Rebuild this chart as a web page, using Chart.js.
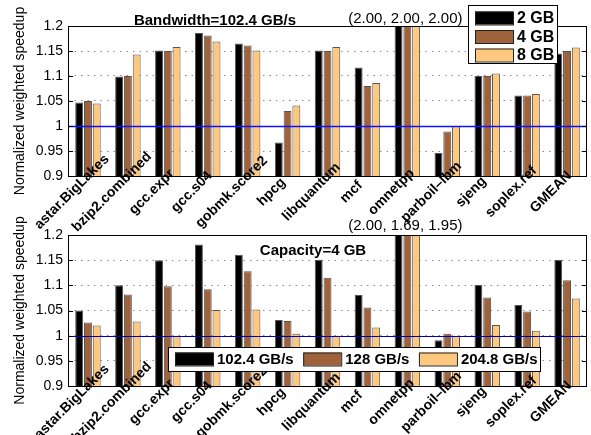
<!DOCTYPE html>
<html>
<head>
<meta charset="utf-8">
<script src="https://cdn.jsdelivr.net/npm/chart.js@4"></script>
<style>
  body { margin: 0; background: #fff; }
  #wrap { position: relative; width: 591px; height: 435px; }
  #wrap canvas { position: absolute; left: 0; top: 0; }
</style>
</head>
<body>
<div id="wrap">
  <canvas id="bw" width="591" height="435"></canvas>
  <canvas id="cap" width="591" height="435"></canvas>
</div>
<script>
const categories = ['astar.BigLakes', 'bzip2.combined', 'gcc.expr', 'gcc.s04', 'gobmk.score2', 'hpcg',
  'libquantum', 'mcf', 'omnetpp', 'parboil\u2013lbm', 'sjeng', 'soplex.ref', 'GMEAN'];
const yTicks = [0.9, 0.95, 1, 1.05, 1.1, 1.15, 1.2];

// top: bandwidth fixed at 102.4 GB/s, capacity varied
const bwSeries = ['2 GB', '4 GB', '8 GB'];
const bw2GB = [1.047, 1.099, 1.151, 1.186, 1.165, 0.967, 1.151, 1.117, 2.00, 0.946, 1.100, 1.061, 1.145];
const bw4GB = [1.050, 1.100, 1.150, 1.181, 1.161, 1.030, 1.150, 1.080, 2.00, 0.989, 1.100, 1.061, 1.150];
const bw8GB = [1.045, 1.143, 1.158, 1.169, 1.151, 1.041, 1.158, 1.086, 2.00, 1.000, 1.105, 1.064, 1.157];

// bottom: capacity fixed at 4 GB, bandwidth varied
const capSeries = ['102.4 GB/s', '128 GB/s', '204.8 GB/s'];
const cap102 = [1.050, 1.100, 1.150, 1.181, 1.161, 1.031, 1.151, 1.081, 2.00, 0.991, 1.101, 1.061, 1.151];
const cap128 = [1.026, 1.082, 1.098, 1.092, 1.128, 1.029, 1.115, 1.056, 1.69, 1.004, 1.076, 1.048, 1.110];
const cap204 = [1.020, 1.028, 1.000, 1.051, 1.052, 1.004, 1.000, 1.016, 1.95, 0.999, 1.021, 1.010, 1.074];

const barColors = ['#000000', '#A0623B', '#FFC87F'];
const FONT = '"Liberation Sans", Arial, Helvetica, sans-serif';

// everything matlab draws on top of the bars
function decorations(cfg) {
  return {
    id: 'decor',
    afterDatasetsDraw(chart) {
      const ctx = chart.ctx;
      const a = chart.chartArea;
      const x = chart.scales.x, y = chart.scales.y;
      ctx.save();

      // reference line at 1
      const y1 = Math.round(y.getPixelForValue(1)) + 0.5;
      ctx.strokeStyle = cfg.lineColor;
      ctx.lineWidth = cfg.lineWidth;
      ctx.beginPath(); ctx.moveTo(a.left, y1); ctx.lineTo(a.right, y1); ctx.stroke();

      // axes box + inward ticks
      ctx.strokeStyle = '#000';
      ctx.lineWidth = 1;
      ctx.strokeRect(Math.round(a.left) + 0.5, Math.round(a.top) + 0.5,
        Math.round(a.right - a.left) - 1, Math.round(a.bottom - a.top));
      ctx.beginPath();
      yTicks.forEach(v => {
        const py = Math.round(y.getPixelForValue(v)) + 0.5;
        ctx.moveTo(a.left, py); ctx.lineTo(a.left + 5, py);
        ctx.moveTo(a.right, py); ctx.lineTo(a.right - 5, py);
      });
      ctx.stroke();

      // title and clipped-value note
      ctx.fillStyle = '#000';
      ctx.textAlign = 'center';
      ctx.textBaseline = 'alphabetic';
      ctx.font = 'bold 15px ' + FONT;
      ctx.fillText(cfg.title, a.left + cfg.titleX, a.top + cfg.titleY);
      const idx = categories.indexOf('omnetpp');
      const note = '(' + chart.data.datasets.map(d => d.data[idx].toFixed(2)).join(', ') + ')';
      ctx.font = '15px ' + FONT;
      ctx.fillText(note, x.getPixelForValue(idx) - 2, a.top + cfg.noteY);

      // y title
      ctx.font = '14px ' + FONT;
      ctx.save();
      ctx.translate(20, (a.top + a.bottom) / 2);
      ctx.rotate(-Math.PI / 2);
      ctx.textBaseline = 'middle';
      ctx.fillText('Normalized weighted speedup', 0, 0);
      ctx.restore();

      // rotated category labels
      ctx.font = 'bold 14px ' + FONT;
      ctx.textBaseline = 'middle';
      categories.forEach((c, i) => {
        ctx.save();
        ctx.translate(x.getPixelForValue(i) - 16, a.bottom + 16);
        ctx.rotate(-Math.PI / 4);
        ctx.fillText(c, 0, 0);
        ctx.restore();
      });

      // legend
      const L = cfg.legend;
      ctx.fillStyle = '#fff';
      ctx.fillRect(L.x, L.y, L.w, L.h);
      ctx.strokeStyle = '#000';
      ctx.strokeRect(L.x + 0.5, L.y + 0.5, L.w, L.h);
      ctx.font = 'bold ' + L.font + 'px ' + FONT;
      ctx.textAlign = 'left';
      ctx.textBaseline = 'middle';
      let lx = L.x + 7, ly = L.y + L.rowTop;
      chart.data.datasets.forEach(d => {
        ctx.fillStyle = d.backgroundColor;
        ctx.fillRect(lx, ly - 6.5, 38, 13);
        ctx.strokeStyle = '#222';
        ctx.strokeRect(lx + 0.5, ly - 6.5 + 0.5, 38, 13);
        ctx.fillStyle = '#000';
        ctx.fillText(d.label, lx + 42, ly + 1);
        if (L.horizontal) {
          lx += 38 + 5 + ctx.measureText(d.label).width + 8.5;
        } else {
          ly += L.rowStep;
        }
      });
      ctx.restore();
    }
  };
}

function makeChart(id, series, values, pad, cfg) {
  return new Chart(document.getElementById(id), {
    type: 'bar',
    data: {
      labels: categories,
      datasets: series.map((s, i) => ({
        label: s,
        data: values[i],
        backgroundColor: barColors[i],
        borderColor: '#555',
        borderWidth: 1,
        borderSkipped: false,
        categoryPercentage: 0.66,
        barPercentage: 0.9,
        clip: 0
      }))
    },
    options: {
      responsive: false,
      devicePixelRatio: 1,
      animation: false,
      layout: { padding: { left: 0, right: 4, top: pad.top, bottom: pad.bottom } },
      plugins: { legend: { display: false }, tooltip: { enabled: false } },
      scales: {
        x: {
          ticks: { display: false },
          grid: { display: false },
          border: { display: false },
          afterFit: s => { s.height = 0; }
        },
        y: {
          min: 0.9,
          max: 1.2,
          afterBuildTicks: s => { s.ticks = yTicks.map(v => ({ value: v })); },
          ticks: {
            color: '#000',
            padding: 5,
            font: { family: FONT, size: 14 },
            callback: v => String(v)
          },
          grid: { color: '#8a8a8a', lineWidth: 1, drawTicks: false },
          border: { display: false, dash: [1.5, 5] },
          afterFit: s => { s.width = 68; }
        }
      }
    },
    plugins: [decorations(cfg)]
  });
}

makeChart('bw', bwSeries, [bw2GB, bw4GB, bw8GB], { top: 26, bottom: 259 }, {
  title: 'Bandwidth=102.4 GB/s', titleX: 147, titleY: -1, noteY: -3,
  lineColor: '#1010ff', lineWidth: 1.6,
  legend: { x: 468, y: 5, w: 89, h: 58, rowTop: 13, rowStep: 18.5, font: 16, horizontal: false }
});

makeChart('cap', capSeries, [cap102, cap128, cap204], { top: 235, bottom: 49 }, {
  title: 'Capacity=4 GB', titleX: 245, titleY: 20, noteY: -5,
  lineColor: '#0000b0', lineWidth: 1,
  legend: { x: 168, y: 347, w: 372, h: 24, rowTop: 12, rowStep: 0, font: 15, horizontal: true }
});
</script>
</body>
</html>
